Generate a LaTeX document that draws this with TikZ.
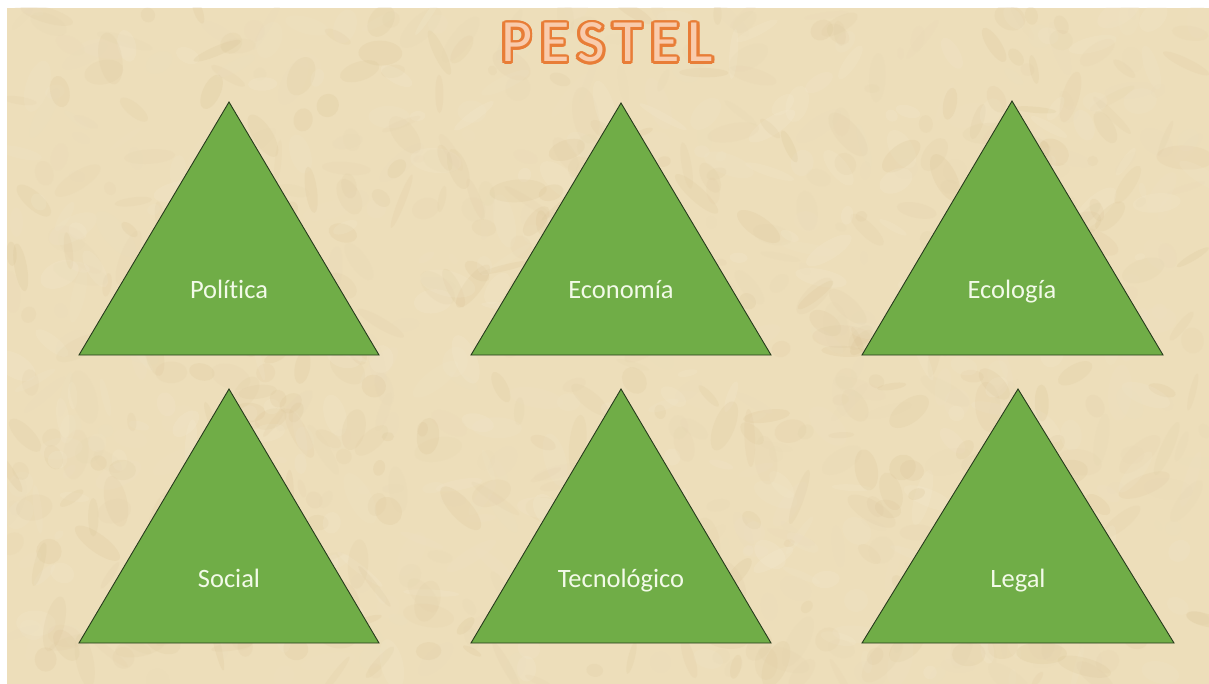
\documentclass[tikz,border=0pt]{standalone}
\usepackage{fontspec}
\setmainfont{Carlito}[Ligatures={NoCommon}]
\definecolor{paper}{RGB}{237,222,186}
\definecolor{paperlight}{RGB}{248,241,222}
\definecolor{paperdark}{RGB}{212,186,136}
\definecolor{tri}{RGB}{112,173,71}
\definecolor{triline}{RGB}{38,58,28}
\definecolor{lbl}{RGB}{242,250,232}
\definecolor{titleline}{RGB}{232,125,55}
\definecolor{titlefill}{RGB}{249,203,172}
\begin{document}
\begin{tikzpicture}[x=1pt,y=-1pt,
  tristyle/.style={fill=tri,draw=triline,line width=0.9pt,line join=miter},
  lblstyle/.style={text=lbl,font=\fontsize{26.5}{30}\selectfont,anchor=base,inner sep=0pt},
  titlestyle/.style={font=\fontsize{60}{70}\selectfont,anchor=base,inner sep=0pt}]
\useasboundingbox (0,0) rectangle (1209,684);
\fill[white] (0,0) rectangle (1209,684);
\begin{scope}
  \clip (7,8) rectangle (1209,684);
  \fill[paper] (7,8) rectangle (1209,684);
  \pgfmathsetseed{12}
  \foreach \i in {1,...,1100}{
    \pgfmathsetmacro\px{7+1202*rnd}
    \pgfmathsetmacro\py{8+676*rnd}
    \pgfmathsetmacro\rx{5+24*rnd}
    \pgfmathsetmacro\ry{3+10*rnd}
    \pgfmathsetmacro\ang{360*rnd}
    \pgfmathtruncatemacro\mix{100*rnd}
    \fill[paperlight!\mix!paperdark, opacity=0.16, rotate around={\ang:(\px,\py)}] (\px,\py) ellipse ({\rx} and {\ry});
  }
\end{scope}
% title
\newcommand{\titletext}{P\hspace{8pt}E\hspace{8pt}S\hspace{8pt}T\hspace{8pt}E\hspace{8pt}L}
\foreach \a in {0,22.5,...,337.5}{
  \node[titlestyle,text=titleline,shift={(\a:2.8)}] at (607,62) {\titletext};
}
\node[titlestyle,text=titlefill] (title) at (607,62) {\titletext};
% triangles
\coordinate (p1a) at (229,102); \coordinate (p1l) at (79,355);  \coordinate (p1r) at (379,355);
\coordinate (p2a) at (621,103); \coordinate (p2l) at (471,355); \coordinate (p2r) at (771,355);
\coordinate (p3a) at (1012,101);\coordinate (p3l) at (862,355); \coordinate (p3r) at (1163,355);
\coordinate (p4a) at (229,389); \coordinate (p4l) at (79,643);  \coordinate (p4r) at (379,643);
\coordinate (p5a) at (621,389); \coordinate (p5l) at (471,643); \coordinate (p5r) at (771,643);
\coordinate (p6a) at (1018,389);\coordinate (p6l) at (862,643); \coordinate (p6r) at (1174,643);
\foreach \k in {1,...,6}{
  \draw[tristyle] (p\k l) -- (p\k a) -- (p\k r) -- cycle;
}
\node[lblstyle] (politica) at (229,299) {Política};
\node[lblstyle] (economia) at (621,299) {Economía};
\node[lblstyle] (ecologia) at (1012,299) {Ecología};
\node[lblstyle] (social) at (229,587) {Social};
\node[lblstyle] (tecnologico) at (621,587) {Tecnológico};
\node[lblstyle] (legal) at (1018,587) {Legal};
\end{tikzpicture}
\end{document}
